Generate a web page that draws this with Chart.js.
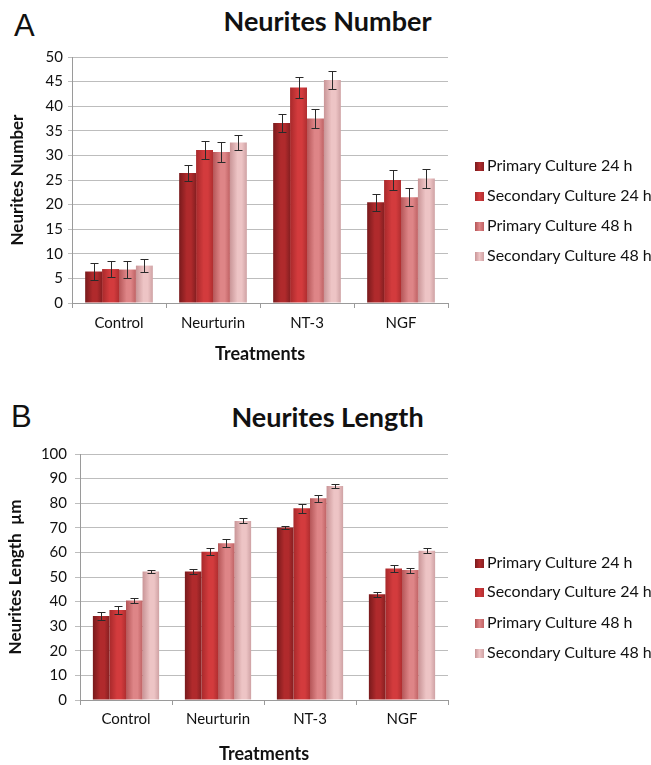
<!DOCTYPE html>
<html>
<head>
<meta charset="utf-8">
<script src="https://cdn.jsdelivr.net/npm/chart.js@4/dist/chart.umd.min.js"></script>
<style>
  body { margin: 0; background: #fff; font-family: Lato, "Open Sans", sans-serif; }
  #wrap { position: relative; width: 651px; height: 765px; overflow: hidden; }
  canvas { position: absolute; left: 0; }
  .letter { position: absolute; font-family: "Liberation Sans", Arial, sans-serif; font-size: 31px; color: #111; }
  .title { position: absolute; width: 651px; left: 2px; text-align: center; font-weight: bold; font-size: 27px; color: #111; line-height: 32px; }
  .legend { position: absolute; left: 475px; font-size: 16px; color: #111; }
  .legend div { position: absolute; white-space: nowrap; line-height: 18px; }
  .legend span { display: inline-block; width: 9px; height: 9px; margin-right: 3px; vertical-align: 0; }
</style>
</head>
<body>
<div id="wrap">
  <div class="letter" style="left:14px; top:8px;">A</div>
  <div class="title" style="top:5px;">Neurites Number</div>
  <canvas id="numberChart" width="651" height="365" style="top:0;"></canvas>
  <div class="legend" id="legendA" style="top:0;"></div>

  <div class="letter" style="left:11px; top:399px;">B</div>
  <div class="title" style="top:401px;">Neurites Length</div>
  <canvas id="lengthChart" width="651" height="385" style="top:380px;"></canvas>
  <div class="legend" id="legendB" style="top:0;"></div>
</div>
<script>
const treatments = ["Control", "Neurturin", "NT-3", "NGF"];
const seriesLabels = ["Primary Culture 24 h", "Secondary Culture 24 h", "Primary Culture 48 h", "Secondary Culture 48 h"];

// Neurites number (panel A)
const numPrimary24 = [6.4, 26.4, 36.6, 20.5];
const numSecondary24 = [6.9, 31.1, 43.8, 25.0];
const numPrimary48 = [6.8, 30.7, 37.5, 21.5];
const numSecondary48 = [7.6, 32.6, 45.3, 25.3];
const numPrimary24Err = [1.8, 1.7, 1.8, 1.7];
const numSecondary24Err = [1.6, 1.9, 2.1, 2.0];
const numPrimary48Err = [1.8, 2.0, 1.9, 1.8];
const numSecondary48Err = [1.4, 1.5, 1.8, 2.0];

// Neurites length (panel B)
const lenPrimary24 = [34.1, 52.2, 70.1, 43.0];
const lenSecondary24 = [36.6, 60.3, 77.9, 53.5];
const lenPrimary48 = [40.4, 63.7, 82.0, 52.8];
const lenSecondary48 = [52.2, 72.8, 87.0, 60.7];
const lenPrimary24Err = [1.6, 1.0, 0.7, 1.0];
const lenSecondary24Err = [1.5, 1.4, 1.8, 1.4];
const lenPrimary48Err = [0.9, 1.6, 1.4, 1.0];
const lenSecondary48Err = [0.7, 1.0, 0.7, 1.0];

// left edge, middle, right edge of each bar's shading
const barShades = [
  ["#781a1c", "#b02a2c", "#861f21"],
  ["#a8292b", "#d33b3d", "#b02e30"],
  ["#b55658", "#de8587", "#bf6264"],
  ["#c99597", "#edc4c5", "#cfa2a4"]
];

const FONT = "Lato, 'Open Sans', sans-serif";

// bars get a horizontal gradient (options are per element because backgroundColor is scriptable)
const shadePlugin = {
  id: "shade",
  beforeDatasetsDraw(chart) {
    const ctx = chart.ctx;
    chart.data.datasets.forEach((ds, i) => {
      const shade = barShades[i];
      chart.getDatasetMeta(i).data.forEach(bar => {
        const g = ctx.createLinearGradient(bar.x - bar.width / 2, 0, bar.x + bar.width / 2, 0);
        g.addColorStop(0, shade[0]);
        g.addColorStop(0.45, shade[1]);
        g.addColorStop(0.7, shade[1]);
        g.addColorStop(1, shade[2]);
        bar.options.backgroundColor = g;
      });
    });
  }
};

const errorBarPlugin = {
  id: "errorBars",
  afterDatasetsDraw(chart) {
    const ctx = chart.ctx;
    const y = chart.scales.y;
    ctx.save();
    ctx.strokeStyle = "#2a2a2a";
    ctx.lineWidth = 1;
    chart.data.datasets.forEach((ds, i) => {
      chart.getDatasetMeta(i).data.forEach((bar, j) => {
        const v = ds.data[j], e = ds.errors[j];
        const top = Math.round(y.getPixelForValue(v + e)) + 0.5;
        const bot = Math.round(y.getPixelForValue(v - e)) + 0.5;
        const x = Math.round(bar.x) + 0.5;
        ctx.beginPath();
        ctx.moveTo(x, top); ctx.lineTo(x, bot);
        ctx.moveTo(x - 4, top); ctx.lineTo(x + 4, top);
        ctx.moveTo(x - 4, bot); ctx.lineTo(x + 4, bot);
        ctx.stroke();
      });
    });
    ctx.restore();
  }
};

function makeChart(id, series, errors, cfg) {
  const ctx = document.getElementById(id).getContext("2d");
  return new Chart(ctx, {
    type: "bar",
    data: {
      labels: treatments,
      datasets: series.map((data, i) => ({
        label: seriesLabels[i],
        data,
        errors: errors[i],
        backgroundColor: () => barShades[i][1],
        borderWidth: 0,
        categoryPercentage: 0.72,
        barPercentage: 1.0
      }))
    },
    options: {
      responsive: false,
      animation: false,
      layout: { padding: { top: cfg.top, right: 203, left: 0, bottom: 0 } },
      plugins: { legend: { display: false }, tooltip: { enabled: false } },
      scales: {
        x: {
          grid: { drawOnChartArea: false, drawTicks: true, tickLength: 5, color: "#9a9a9a", offset: true },
          border: { color: "#9a9a9a" },
          ticks: { color: "#111", font: { family: FONT, size: 15 }, padding: cfg.xPad },
          title: { display: true, text: "Treatments", color: "#111", font: { family: FONT, size: 18, weight: "bold" }, padding: { top: cfg.xTitlePad, bottom: 0 } },
          afterFit(scale) { scale.height = cfg.xHeight; }
        },
        y: {
          min: 0, max: cfg.max,
          grid: { color: "#bdbdbd", tickLength: cfg.yTick },
          border: { color: "#9a9a9a" },
          ticks: { stepSize: cfg.step, color: "#111", font: { family: FONT, size: 15 }, padding: cfg.yPad },
          title: { display: true, text: cfg.yTitle, color: "#111", font: { family: FONT, size: 17, weight: "bold" }, padding: { top: cfg.yTitlePad, bottom: 0 } },
          afterFit(scale) { scale.width = cfg.yWidth; }
        }
      }
    },
    plugins: [shadePlugin, errorBarPlugin]
  });
}

function makeLegend(id, rows) {
  const el = document.getElementById(id);
  el.innerHTML = seriesLabels.map((label, i) =>
    `<div style="top:${rows[i] - 9}px"><span style="background:linear-gradient(to right, ${barShades[i][0]}, ${barShades[i][1]}, ${barShades[i][2]})"></span>${label}</div>`
  ).join("");
}

makeChart("numberChart",
  [numPrimary24, numSecondary24, numPrimary48, numSecondary48],
  [numPrimary24Err, numSecondary24Err, numPrimary48Err, numSecondary48Err],
  { top: 57, max: 50, step: 5, yTitle: "Neurites Number", yWidth: 72, yTick: 4, yPad: 5, yTitlePad: 7, xHeight: 62, xPad: 6, xTitlePad: 5 });

makeChart("lengthChart",
  [lenPrimary24, lenSecondary24, lenPrimary48, lenSecondary48],
  [lenPrimary24Err, lenSecondary24Err, lenPrimary48Err, lenSecondary48Err],
  { top: 74, max: 100, step: 10, yTitle: "Neurites Length  µm", yWidth: 80, yTick: 5, yPad: 8, yTitlePad: 5, xHeight: 65, xPad: 5, xTitlePad: 0 });

makeLegend("legendA", [165, 195, 225, 255]);
makeLegend("legendB", [562, 591, 622, 652]);
</script>
</body>
</html>
